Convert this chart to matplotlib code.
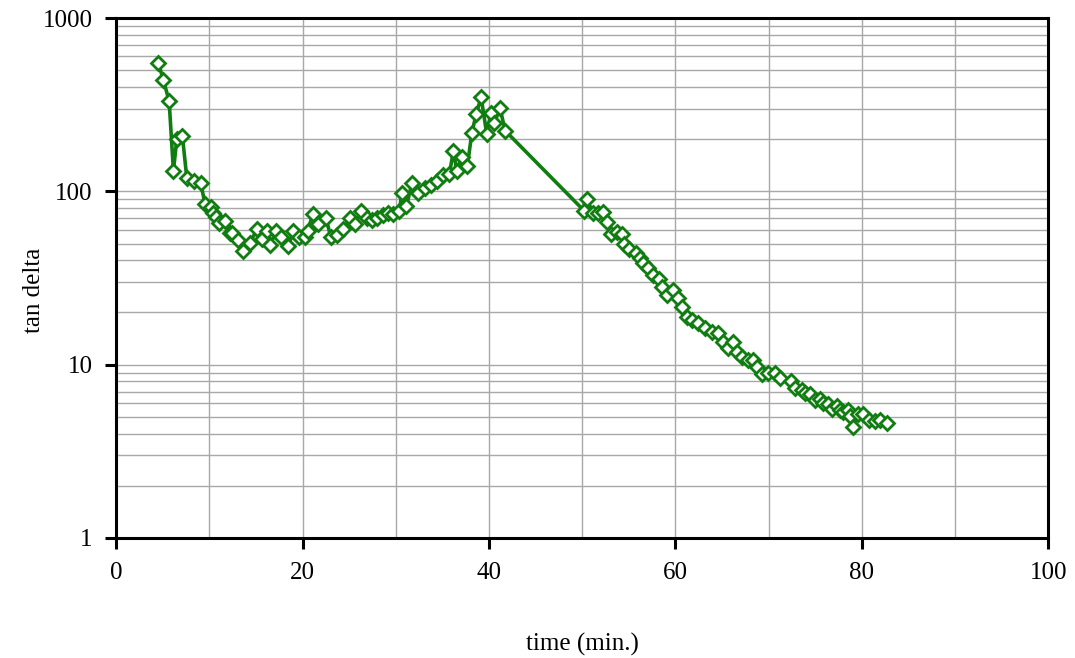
import matplotlib
matplotlib.use('Agg')
import matplotlib.pyplot as plt
from matplotlib.ticker import FixedLocator, NullFormatter, LogLocator

plt.rcParams['font.family'] = ['Liberation Serif', 'DejaVu Serif']

# loss tangent measured over the run
time_min = [4.54, 5.07, 5.69, 6.15, 6.51, 7.11, 7.59, 8.37, 9.09, 9.55,
            10.16, 10.44, 10.73, 11.08, 11.70, 12.2, 12.4, 13.1, 13.66, 14.38,
            15.10, 15.63, 16.23, 16.52, 17.17, 17.67, 18.49, 19.02, 19.67, 20.3,
            20.55, 21.1, 21.67, 22.53, 23.04, 23.68, 24.39, 25.11, 25.64, 26.26,
            26.90, 27.44, 28.04, 28.68, 29.22, 29.75, 30.40, 30.65, 31.15, 31.73,
            32.44, 33.15, 33.77, 34.44, 35.05, 35.76, 36.19, 36.56, 37.09, 37.69,
            38.17, 38.63, 39.16, 39.77, 40.20, 40.59, 41.20, 41.74,
            50.21, 50.50, 51.21, 51.75, 52.29, 52.65, 53.08, 53.72, 54.26, 54.51,
            55.08, 55.79, 56.22, 56.58, 57.11, 57.65, 58.29, 58.55, 59.09, 59.80,
            60.33, 60.70, 61.23, 61.77, 62.48, 63.20, 63.92, 64.62, 65.16, 65.70,
            66.23, 66.60, 67.14, 67.84, 68.38, 68.74, 69.28, 69.99, 70.71, 71.24,
            72.4, 72.85, 73.57, 73.93, 74.46, 75.0, 75.54, 75.89, 76.43, 76.79,
            77.33, 77.68, 78.04, 78.57, 78.76, 79.11, 79.65, 80.18, 80.83, 81.44,
            81.97, 82.69]
tan_delta = [548, 439, 332, 131, 200, 209, 119, 115, 111, 84,
             81.5, 75, 70.8, 66, 67, 57.5, 57.7, 52.4, 45.5, 50.4,
             60.4, 52.9, 59, 49, 59, 54.3, 48.4, 59, 54.3, 54.3,
             59, 73.7, 64.8, 69.9, 54.3, 56, 60.4, 69.9, 64.8, 77,
             69.9, 68.4, 69.9, 73, 75.3, 73.7, 77, 97.5, 82, 111,
             98, 104, 109, 115, 124, 126, 171, 131.6, 157, 140,
             218, 278, 349, 214, 282, 249, 301, 224,
             77.3, 90, 74.7, 74.7, 75.7, 66.8, 56.7, 58.5, 56.7, 49.7,
             46.3, 44.3, 41.1, 38.4, 36, 32.9, 31.1, 28.2, 25.2, 27,
             24.2, 21.6, 18.9, 18.1, 17.5, 16.2, 15.5, 15.2, 13.6, 12.4,
             13.6, 11.9, 11.0, 10.6, 10.6, 9.66, 8.84, 8.91, 8.99, 8.34,
             8.0, 7.3, 7.14, 6.84, 6.75, 6.26, 6.31, 6.03, 5.91, 5.53,
             5.78, 5.48, 5.35, 5.48, 5.06, 4.39, 5.17, 5.17, 4.80, 4.75,
             4.80, 4.59]

x_ticks = [0, 20, 40, 60, 80, 100]
y_ticks = [1, 10, 100, 1000]
y_tick_labels = ['1', '10', '100', '1000']

fig = plt.figure(figsize=(10.75, 6.58), dpi=100)
ax = fig.add_axes([0.108, 0.1824, 0.867, 0.7902])

ax.plot(time_min, tan_delta, color='#0f7d0f', linewidth=2.6,
        marker='D', markersize=7, markerfacecolor='white',
        markeredgecolor='#0f7d0f', markeredgewidth=2.0, zorder=3)

ax.set_yscale('log')
ax.set_xlim(0, 100)
ax.set_ylim(1, 1000)

ax.set_xticks(x_ticks)
ax.xaxis.set_minor_locator(FixedLocator(range(0, 101, 10)))
ax.set_yticks(y_ticks)
ax.set_yticklabels(y_tick_labels)
ax.yaxis.set_minor_locator(LogLocator(base=10, subs=range(2, 10)))
ax.yaxis.set_minor_formatter(NullFormatter())

ax.grid(True, which='both', color='#a8a8a8', linewidth=1.0)
ax.set_axisbelow(True)

ax.tick_params(which='major', direction='out', length=8, width=2.2,
               labelsize=18, top=False, right=False, pad=9)
ax.tick_params(which='minor', length=0)

for s in ax.spines.values():
    s.set_linewidth(2.2)
    s.set_color('black')

ax.set_xlabel('time (min.)', fontsize=18)
ax.set_ylabel('tan delta', fontsize=18)
ax.xaxis.set_label_coords(0.5, -0.183)
ax.yaxis.set_label_coords(-0.076, 0.477)

fig.savefig('out.png', dpi=100)
